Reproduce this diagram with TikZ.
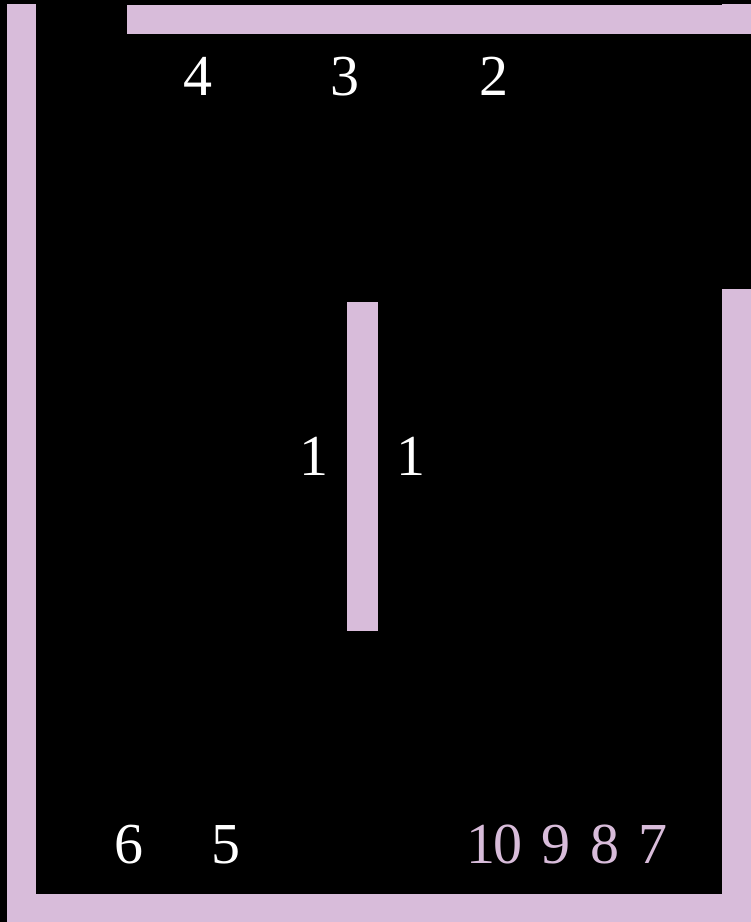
\documentclass[tikz,border=0pt]{standalone}
\usepackage{fontspec}
\setmainfont{Liberation Serif}
\usepackage{xcolor}
\usepackage{tikz}
\definecolor{wallpink}{HTML}{D8BCDA}
\definecolor{roombg}{HTML}{000000}

\begin{document}
\begin{tikzpicture}[
    x=1pt, y=-1pt,
    wall/.style={fill=wallpink, draw=none},
    num/.style={text=white, anchor=base, inner sep=0pt, font=\fontsize{58}{60}\selectfont},
    pnum/.style={num, text=wallpink}
]
% background and frame
\fill[roombg] (0,0) rectangle (751,922);
\useasboundingbox (0,0) rectangle (751,922);

% walls
\fill[wall] (7,4) rectangle (36,922);
\fill[wall] (127,5) rectangle (751,34);
\fill[wall] (722,4) rectangle (751,34);
\fill[wall] (722,289) rectangle (751,922);
\fill[wall] (7,894) rectangle (751,922);
\fill[wall] (347,302) rectangle (378,631);

% labels
\node[num] (n4) at (198,95) {4};
\node[num] (n3) at (345,95) {3};
\node[num] (n2) at (494,95) {2};
\node[num] (n1a) at (314,475) {1};
\node[num] (n1b) at (411,475) {1};
\node[num] (n6) at (129,863) {6};
\node[num] (n5) at (226,863) {5};
\node[pnum] (n10) at (494,863) {1\kern-2pt 0};
\node[pnum] (n9) at (556,863) {9};
\node[pnum] (n8) at (605,863) {8};
\node[pnum] (n7) at (653,863) {7};
\end{tikzpicture}
\end{document}
